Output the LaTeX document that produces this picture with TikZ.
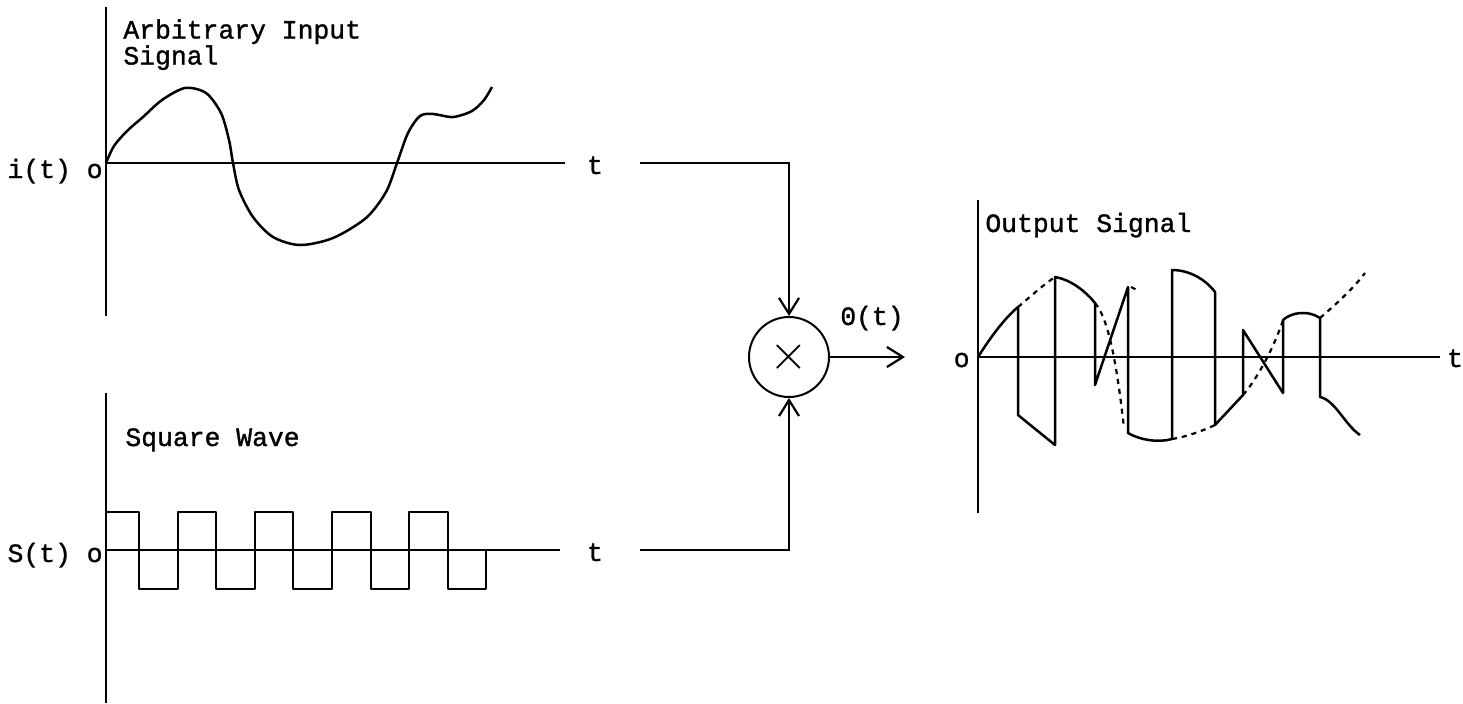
\documentclass[tikz,border=0pt]{standalone}
\usepackage{fontspec}
\setmainfont{Liberation Mono}[FakeBold=1.2]
\usetikzlibrary{arrows.meta}

\begin{document}
\begin{tikzpicture}[x=0.5pt, y=-0.5pt,
  every node/.style={font=\fontsize{13.2}{13}\selectfont, inner sep=0pt},
  axis/.style={line width=1.1pt},
  wave/.style={line width=1.25pt, line join=round},
  env/.style={line width=1.1pt, dash pattern=on 2.5pt off 2.5pt},
  arrow/.style={line width=1.1pt, -{Straight Barb[length=8pt,width=10pt]}}]

\useasboundingbox (0,0) rectangle (1463,703);

% Input signal
\draw[axis] (106,7) -- (106,316);
\draw[axis] (106,163) -- (565,163);
\node[anchor=north west, align=left] (ttlin) at (123,19) {Arbitrary Input\\Signal};
\node[anchor=base east] (lblin) at (103,178) {i(t) o};
\node[anchor=base] (tin) at (595,174) {t};
\draw[wave] plot[smooth] coordinates {(106,163) (114,146) (127,131) (143,117) (162,100) (185,88)
  (206,93) (221,113) (229,140) (233,163) (239,190) (253,217) (273,237) (300,245) (333,238)
  (366,218) (386,192) (397,163) (408,133) (420,116) (433,114) (453,117) (472,111) (484,100) (492,87)};

% Square wave
\draw[axis] (106,393) -- (106,703);
\draw[axis] (106,550) -- (560,550);
\node[anchor=base west] (ttlsq) at (125,446) {Square Wave};
\node[anchor=base east] (lblsq) at (103,562) {S(t) o};
\node[anchor=base] (tsq) at (595,561) {t};
\draw[wave] (106,550) -- (106,512) -- (139,512) -- (139,589) -- (178,589) -- (178,512)
  -- (216,512) -- (216,589) -- (255,589) -- (255,512) -- (293,512) -- (293,589)
  -- (332,589) -- (332,512) -- (371,512) -- (371,589) -- (409,589) -- (409,512)
  -- (448,512) -- (448,589) -- (486,589) -- (486,550);

% Multiplier
\node[circle, draw, line width=1pt, minimum size=40pt] (mult) at (789,357)
  {\fontsize{34}{34}\selectfont$\times$};
\coordinate (inA) at (640,163);
\coordinate (inB) at (640,550);
\coordinate (outA) at (905,357);
\draw[arrow] (inA) -| (mult.north);
\draw[arrow] (inB) -| (mult.south);
\draw[arrow] (mult.east) -- (outA);
\node[anchor=base] (lblout) at (872,325) {0(t)};

% Output signal
\draw[axis] (978,200) -- (978,513);
\draw[axis] (978,357) -- (1440,357);
\node[anchor=base west] (ttlout) at (985,232) {Output Signal};
\node[anchor=base east] (lblo) at (970,367) {o};
\node[anchor=base] (tout) at (1455,367) {t};
\draw[wave] (978,357) .. controls (992,335) and (1005,318) .. (1018,307) -- (1018,415) -- (1055,445)
  -- (1055,277) .. controls (1072,280) and (1086,292) .. (1095,303) -- (1095,385) -- (1128,287)
  -- (1128,433) .. controls (1140,440) and (1158,443) .. (1172,439) -- (1172,270)
  .. controls (1190,270) and (1206,280) .. (1215,292) -- (1215,425) -- (1243,395) -- (1243,330)
  -- (1283,393) -- (1283,320) .. controls (1292,312) and (1308,310) .. (1320,318) -- (1320,397)
  .. controls (1335,400) and (1345,425) .. (1360,435);
\draw[env] (1018,307) .. controls (1030,297) and (1043,285) .. (1055,277);
\draw[env] (1095,303) .. controls (1110,320) and (1118,375) .. (1124,428);
\draw[env] (1131,287) -- (1137,290);
\draw[env] (1172,439) .. controls (1185,437) and (1200,432) .. (1215,425);
\draw[env] (1243,395) .. controls (1258,378) and (1275,345) .. (1283,320);
\draw[env] (1320,318) .. controls (1335,305) and (1352,290) .. (1365,273);

\end{tikzpicture}
\end{document}
